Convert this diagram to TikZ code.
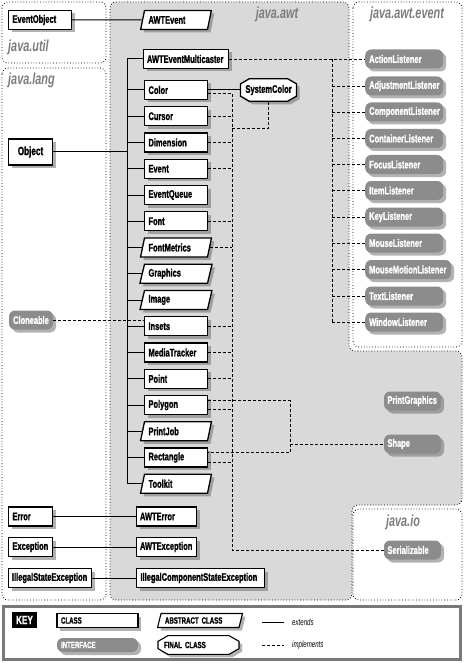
\documentclass[tikz,border=0pt]{standalone}
\usepackage{fontspec}
\newfontfamily\classfont[FakeStretch=0.68,BoldFeatures={FakeBold=1.2}]{Liberation Sans}
\usetikzlibrary{shapes.geometric,shapes.misc,shadows}
\definecolor{awtgray}{RGB}{217,217,217}
\definecolor{ifacegray}{RGB}{140,140,140}
\definecolor{titlegray}{RGB}{125,125,125}
\definecolor{keyframe}{RGB}{120,120,120}
\newcommand\clsfont{\classfont\bfseries\fontsize{11}{13}\selectfont}
\newcommand\objfont{\classfont\bfseries\fontsize{12}{14}\selectfont}
\newcommand\keyfont{\classfont\bfseries\fontsize{9}{11}\selectfont}
\newcommand\keynotefont{\classfont\itshape\fontsize{9}{11}\selectfont}
\newcommand\pkgfont{\classfont\bfseries\itshape\fontsize{16}{18}\selectfont}

\begin{document}
\begin{tikzpicture}[x=1pt,y=-1pt,
    pkg/.style={draw,dotted,line width=0.8pt,rounded corners=6pt},
    pkgtitle/.style={font=\pkgfont,text=titlegray,inner sep=0pt},
    shade/.style={drop shadow={shadow xshift=3pt,shadow yshift=-3pt,fill=black!60}},
    cls/.style={draw,line width=1.3pt,fill=white,shade,font=\clsfont,
                text width=55pt,align=left,minimum height=19pt,inner xsep=4pt},
    abscls/.style={cls,trapezium,trapezium left angle=75,trapezium right angle=105,
                   trapezium stretches body},
    fincls/.style={cls,chamfered rectangle,chamfered rectangle xsep=4pt,
                   chamfered rectangle angle=60,inner xsep=1pt,align=center},
    iface/.style={fill=ifacegray,text=white,rounded corners=6pt,shade,font=\clsfont,
                  text width=70pt,align=left,minimum height=19pt,inner xsep=4pt},
    keycls/.style={cls,font=\keyfont,minimum height=14pt,line width=1.1pt,text width=73pt},
    keynote/.style={font=\keynotefont,inner sep=2pt},
    ext/.style={line width=1pt},
    impl/.style={line width=0.8pt,dash pattern=on 3pt off 2pt}
  ]
  \fill[white] (0,0) rectangle (464,663);
  \useasboundingbox (0,0) rectangle (464,663);
  % packages
  \draw[pkg] (2,2) rectangle (106,63);
  \node[pkgtitle,anchor=west] (utiltitle) at (8,47) {java.util};
  \draw[pkg] (2,68) rectangle (106,600);
  \node[pkgtitle,anchor=west] (langtitle) at (8,80) {java.lang};
  \draw[pkg,fill=awtgray] (110,2) -- (349,2) -- (349,351) -- (462,351) -- (462,505)
    -- (352,505) -- (352,600) -- (110,600) -- cycle;
  \node[pkgtitle] (awttitle) at (277,14) {java.awt};
  \draw[pkg] (353,2) rectangle (462,347);
  \node[pkgtitle] (eventtitle) at (407,14) {java.awt.event};
  \draw[pkg] (353,509) rectangle (462,600);
  \node[pkgtitle] (iotitle) at (403,522) {java.io};

  % java.util and java.lang
  \node[cls] (eventobject) at (40,20) {EventObject};
  \node[cls,text width=36pt,align=center,minimum height=26pt,font=\objfont] (object) at (30.5,152) {Object};
  \node[iface,text width=36pt,inner xsep=4pt,align=center] (cloneable) at (31,320) {Cloneable};
  \node[cls,text width=36pt] (error) at (30.5,516.5) {Error};
  \node[cls,text width=36pt] (exception) at (30.5,547) {Exception};
  \node[cls,text width=76pt,inner xsep=3.5pt] (illegalstate) at (50,578) {IllegalStateException};

  % java.awt classes
  \node[abscls] (awtevent) at (176,20) {AWTEvent};
  \node[cls,text width=78pt,inner xsep=3.5pt] (multicaster) at (186,59) {AWTEventMulticaster};
  \node[cls] (color) at (176,90) {Color};
  \node[cls] (cursor) at (176,116.25) {Cursor};
  \node[cls] (dimension) at (176,142.5) {Dimension};
  \node[cls] (event) at (176,168.75) {Event};
  \node[cls] (eventqueue) at (176,195) {EventQueue};
  \node[cls] (font) at (176,221.25) {Font};
  \node[abscls] (fontmetrics) at (176,247.5) {FontMetrics};
  \node[abscls] (graphics) at (176,273.75) {Graphics};
  \node[abscls] (image) at (176,300) {Image};
  \node[cls] (insets) at (176,326.25) {Insets};
  \node[cls] (mediatracker) at (176,352.5) {MediaTracker};
  \node[cls] (point) at (176,378.75) {Point};
  \node[cls] (polygon) at (176,405) {Polygon};
  \node[abscls] (printjob) at (176,431.25) {PrintJob};
  \node[cls] (rectangle) at (176,457.5) {Rectangle};
  \node[abscls] (toolkit) at (176,483.75) {Toolkit};
  \node[fincls,text width=46pt] (syscolor) at (268.5,90) {SystemColor};
  \node[cls,text width=53pt,inner xsep=3.5pt] (awterror) at (166.5,516.5) {AWTError};
  \node[cls,text width=53pt,inner xsep=3.5pt] (awtexception) at (166.5,547) {AWTException};
  \node[cls,text width=120pt] (illegalcomp) at (200.5,578) {IllegalComponentStateException};
  \node[iface,text width=50pt,inner xsep=3.5pt] (printgraphics) at (412.5,401) {PrintGraphics};
  \node[iface,text width=50pt,inner xsep=3.5pt] (shape) at (412.5,444) {Shape};

  % java.awt.event listeners
  \node[iface,anchor=west] (actionL) at (365,59) {ActionListener};
  \node[iface,anchor=west] (adjustL) at (365,86) {AdjustmentListener};
  \node[iface,anchor=west] (componentL) at (365,112) {ComponentListener};
  \node[iface,anchor=west] (containerL) at (365,138.5) {ContainerListener};
  \node[iface,anchor=west] (focusL) at (365,164.5) {FocusListener};
  \node[iface,anchor=west] (itemL) at (365,190.5) {ItemListener};
  \node[iface,anchor=west] (keyL) at (365,217) {KeyListener};
  \node[iface,anchor=west] (mouseL) at (365,243) {MouseListener};
  \node[iface,anchor=west,text width=78pt] (mousemotionL) at (365,269.5) {MouseMotionListener};
  \node[iface,anchor=west] (textL) at (365,296) {TextListener};
  \node[iface,anchor=west] (windowL) at (365,322) {WindowListener};

  % java.io
  \node[iface,text width=50pt,inner xsep=3.5pt] (serial) at (412.5,550) {Serializable};

  % extends
  \coordinate (trunk) at (127,59);
  \draw[ext] (eventobject.east) -- (awtevent.west);
  \draw[ext] (trunk) -- (trunk |- toolkit.west);
  \draw[ext] (object.east) -- (object.east -| trunk);
  \draw[ext] (multicaster.west -| trunk) -- (multicaster.west);
  \draw[ext] (color.west -| trunk) -- (color.west); \draw[ext] (cursor.west -| trunk) -- (cursor.west);
  \draw[ext] (dimension.west -| trunk) -- (dimension.west); \draw[ext] (event.west -| trunk) -- (event.west);
  \draw[ext] (eventqueue.west -| trunk) -- (eventqueue.west); \draw[ext] (font.west -| trunk) -- (font.west);
  \draw[ext] (fontmetrics.west -| trunk) -- (fontmetrics.west); \draw[ext] (graphics.west -| trunk) -- (graphics.west);
  \draw[ext] (image.west -| trunk) -- (image.west); \draw[ext] (insets.west -| trunk) -- (insets.west);
  \draw[ext] (mediatracker.west -| trunk) -- (mediatracker.west); \draw[ext] (point.west -| trunk) -- (point.west);
  \draw[ext] (polygon.west -| trunk) -- (polygon.west); \draw[ext] (printjob.west -| trunk) -- (printjob.west);
  \draw[ext] (rectangle.west -| trunk) -- (rectangle.west); \draw[ext] (toolkit.west -| trunk) -- (toolkit.west);
  \draw[ext] (color.east) -- (syscolor.west);
  \draw[ext] (error.east) -- (awterror.west);
  \draw[ext] (exception.east) -- (awtexception.west);
  \draw[ext] (illegalstate.east) -- (illegalcomp.west);

  % implements: Serializable
  \coordinate (serbus) at (232,550);
  \coordinate (scjoin) at (232,128);
  \draw[impl] ([yshift=-3pt]color.east) -- ([yshift=-3pt]color.east -| serbus) -- (serbus) -- (serial.west);
  \draw[impl] (syscolor.south) |- (scjoin);
  \draw[impl] (cursor.east) -- (cursor.east -| serbus); \draw[impl] (dimension.east) -- (dimension.east -| serbus);
  \draw[impl] (event.east) -- (event.east -| serbus); \draw[impl] (font.east) -- (font.east -| serbus);
  \draw[impl] (fontmetrics.east) -- (fontmetrics.east -| serbus); \draw[impl] (insets.east) -- (insets.east -| serbus);
  \draw[impl] (mediatracker.east) -- (mediatracker.east -| serbus); \draw[impl] (point.east) -- (point.east -| serbus);
  \draw[impl] ([yshift=-4.5pt]polygon.east) -- ([yshift=-4.5pt]polygon.east -| serbus);
  \draw[impl] ([yshift=-5pt]rectangle.east) -- ([yshift=-5pt]rectangle.east -| serbus);
  % implements: Shape
  \coordinate (shapebus) at (290,444);
  \draw[impl] ([yshift=4.5pt]polygon.east) -| (shapebus) |- ([yshift=5pt]rectangle.east);
  \draw[impl] (shapebus) -- (shape.west);
  % implements: Cloneable
  \draw[impl] (cloneable.east) -- (cloneable.east -| insets.west);
  % implements: listeners
  \coordinate (lisbus) at (332,59);
  \draw[impl] (multicaster.east) -- (actionL.west);
  \draw[impl] (lisbus) -- (lisbus |- windowL.west);
  \draw[impl] (lisbus |- adjustL.west) -- (adjustL.west); \draw[impl] (lisbus |- componentL.west) -- (componentL.west);
  \draw[impl] (lisbus |- containerL.west) -- (containerL.west); \draw[impl] (lisbus |- focusL.west) -- (focusL.west);
  \draw[impl] (lisbus |- itemL.west) -- (itemL.west); \draw[impl] (lisbus |- keyL.west) -- (keyL.west);
  \draw[impl] (lisbus |- mouseL.west) -- (mouseL.west); \draw[impl] (lisbus |- mousemotionL.west) -- (mousemotionL.west);
  \draw[impl] (lisbus |- textL.west) -- (textL.west); \draw[impl] (lisbus |- windowL.west) -- (windowL.west);

  % key
  \draw[line width=2.5pt,draw=keyframe,fill=white] (3.5,606.5) rectangle (460.5,659.5);
  \node[fill=black,text=white,font=\classfont\bfseries\fontsize{12}{14}\selectfont,
        minimum width=25pt,minimum height=16pt,inner sep=1pt] (keylbl) at (24.5,620) {KEY};
  \node[keycls] (keyclass) at (97.5,620.5) {CLASS};
  \node[iface,font=\keyfont,minimum height=14pt,text width=73pt] (keyiface) at (97.5,645) {INTERFACE};
  \node[abscls,font=\keyfont,minimum height=14pt,line width=1.1pt,text width=70pt] (keyabs) at (200,620.5) {ABSTRACT CLASS};
  \node[fincls,font=\keyfont,minimum height=14pt,line width=1.1pt,text width=69pt,align=left,
        chamfered rectangle xsep=5pt] (keyfin) at (198.5,645) {FINAL CLASS};
  \coordinate (extstart) at (262,622);
  \coordinate (implstart) at (262,645);
  \node[keynote,anchor=west] (extlbl) at (290,622) {extends};
  \node[keynote,anchor=west] (impllbl) at (290,645) {implements};
  \draw[ext] (extstart) -- ([xshift=-6pt]extlbl.west);
  \draw[impl] (implstart) -- ([xshift=-6pt]impllbl.west);
\end{tikzpicture}
\end{document}
